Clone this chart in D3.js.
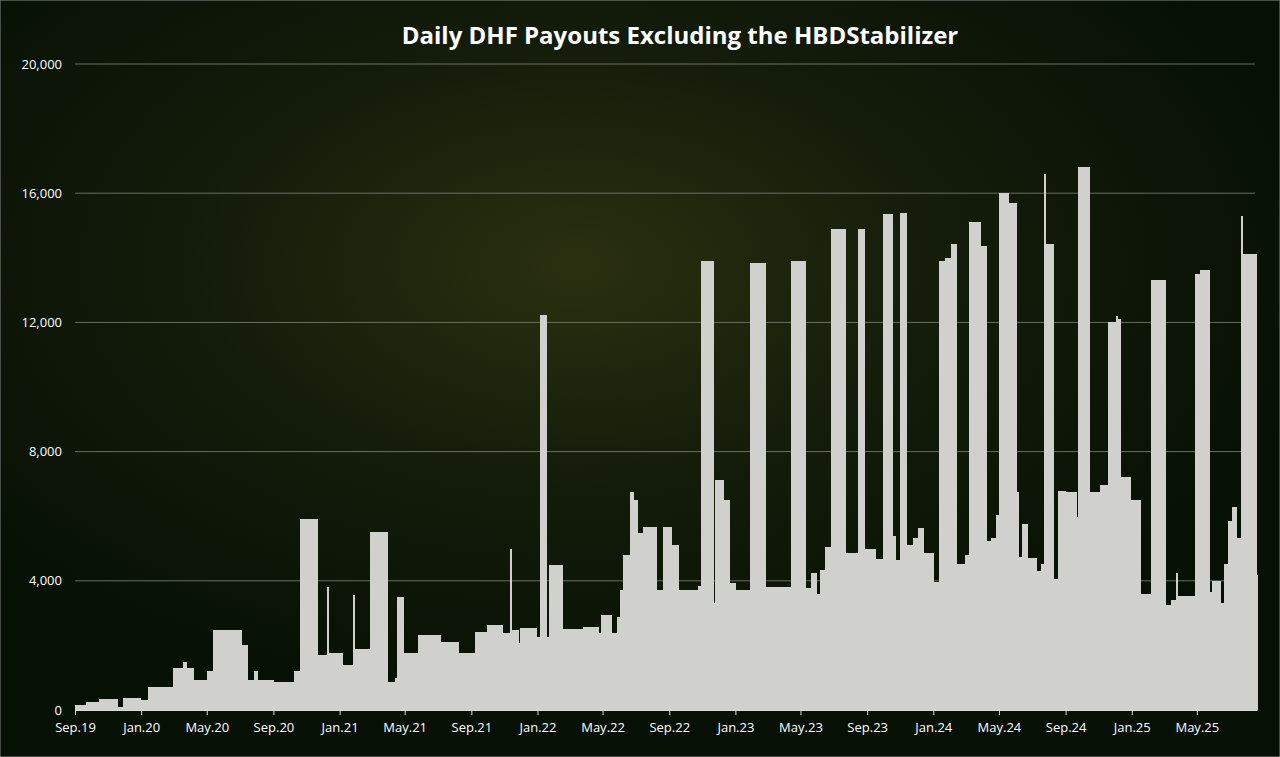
<!DOCTYPE html>
<html><head><meta charset="utf-8">
<script src="https://cdn.jsdelivr.net/npm/d3@7"></script>
<style>html,body{margin:0;padding:0;background:#0a1407;}</style>
</head><body>
<svg id="c" width="1280" height="757"></svg>
<script>
// Step segments: [day offset from 2019-09-01, daily payout]
const segments = [[0,150],[20,250],[45,330],[77,100],[89,360],[120,300],[135,720],[181,1300],[200,1500],[205,1300],[218,930],[243,1200],[255,2480],[307,2000],[317,930],[330,1200],[335,930],[366,860],[403,1200],[415,5900],[446,1700],[465,3800],[466,1750],[492,1400],[513,3550],[514,1900],[544,5500],[575,880],[590,1000],[593,3500],[605,1750],[633,2320],[673,2100],[707,1750],[738,2425],[759,2630],[787,2373],[802,5000],[804,2475],[817,2060],[820,2530],[851,2270],[857,12230],[868,2270],[875,4490],[899,2500],[937,2580],[965,2373],[971,2940],[989,2373],[999,2890],[1005,3715],[1011,4800],[1023,6760],[1030,6500],[1036,5470],[1048,5675],[1072,3715],[1085,5675],[1100,5100],[1112,3715],[1149,3850],[1155,13900],[1176,3300],[1180,7120],[1195,6500],[1207,3920],[1217,3715],[1245,13850],[1272,3820],[1321,13900],[1346,3770],[1358,4230],[1367,3600],[1374,4330],[1383,5060],[1395,14900],[1420,4850],[1444,14900],[1456,4990],[1475,4660],[1490,15357],[1506,5400],[1512,4640],[1521,15400],[1533,5100],[1546,5340],[1555,5630],[1564,4870],[1583,3960],[1593,13900],[1604,14000],[1616,14420],[1624,4520],[1641,4810],[1649,15120],[1669,14370],[1681,5220],[1690,5340],[1699,6040],[1705,16000],[1721,15700],[1735,6740],[1740,4750],[1747,5750],[1755,4700],[1772,4290],[1782,4520],[1788,16580],[1789,14420],[1803,4060],[1813,6790],[1825,6740],[1847,5980],[1850,16800],[1870,6740],[1890,6970],[1905,12000],[1920,12200],[1922,12100],[1927,7200],[1945,6500],[1964,3590],[1985,13320],[1989,8480],[1990,13320],[2011,3240],[2022,3410],[2031,4230],[2032,3530],[2065,13490],[2074,13630],[2091,3650],[2097,4000],[2111,3300],[2120,4520],[2126,5860],[2133,6270],[2142,5340],[2151,15300],[2152,14130],[2178,4170]];
const endDay = 2180;
const tickLabels = ["Sep.19","Jan.20","May.20","Sep.20","Jan.21","May.21","Sep.21","Jan.22","May.22","Sep.22","Jan.23","May.23","Sep.23","Jan.24","May.24","Sep.24","Jan.25","May.25"];
const yTicks = [0,4000,8000,12000,16000,20000];
const startDate = new Date(2019,8,1);

const daily = [];
segments.forEach(([s,v],i)=>{
  const e = i+1<segments.length?segments[i+1][0]:endDay;
  for (let d=s; d<e; d++) daily.push({date:d3.timeDay.offset(startDate,d), v});
});

const svg = d3.select("#c");
const defs = svg.append("defs");
const g1 = defs.append("radialGradient").attr("id","bg").attr("cx","45%").attr("cy","35%").attr("r","60%");
g1.append("stop").attr("offset","0%").attr("stop-color","#2a300f");
g1.append("stop").attr("offset","50%").attr("stop-color","#131b0a");
g1.append("stop").attr("offset","100%").attr("stop-color","#071005");
svg.append("rect").attr("width",1280).attr("height",757).attr("fill","url(#bg)").attr("stroke","#8a8a8a").attr("stroke-width",1);

const x = d3.scaleTime().domain([startDate, d3.timeDay.offset(startDate,endDay)]).range([75,1257]);
const y = d3.scaleLinear().domain([0,20000]).range([710,64]);

svg.append("g").selectAll("line").data(yTicks.slice(1)).join("line")
  .attr("x1",75).attr("x2",1255).attr("y1",d=>y(d)).attr("y2",d=>y(d))
  .attr("stroke","#7f857a").attr("stroke-width",1).attr("opacity",0.8);

svg.append("g").attr("shape-rendering","crispEdges").selectAll("rect").data(daily).join("rect")
  .attr("x",d=>x(d.date)).attr("width",d=>x(d3.timeDay.offset(d.date,1))-x(d.date)+1)
  .attr("y",d=>y(d.v)).attr("height",d=>y(0)-y(d.v))
  .attr("fill","#d0d1cd");

const ticks = tickLabels.map((t,i)=>d3.timeMonth.offset(startDate,4*i));
const xa = svg.append("g").attr("transform","translate(0,710)")
  .call(d3.axisBottom(x).tickValues(ticks).tickFormat((d,i)=>tickLabels[i]).tickSize(5).tickSizeOuter(0));
xa.select(".domain").attr("stroke","#d9d9d9");
xa.selectAll(".tick line").attr("stroke","#d9d9d9");
xa.selectAll("text").attr("fill","#ffffff").attr("font-family","Open Sans, sans-serif").attr("font-size",13).attr("dy","1.05em");

svg.append("g").selectAll("text").data(yTicks).join("text")
  .attr("x",62).attr("y",d=>y(d)+4.5).attr("text-anchor","end")
  .attr("fill","#ffffff").attr("font-family","Open Sans, sans-serif").attr("font-size",13)
  .text(d=>d3.format(",")(d));

svg.append("text").attr("x",680).attr("y",44).attr("text-anchor","middle")
  .attr("fill","#ffffff").attr("font-family","Open Sans, sans-serif").attr("font-weight","bold").attr("font-size",24)
  .text("Daily DHF Payouts Excluding the HBDStabilizer");
</script>
</body></html>
